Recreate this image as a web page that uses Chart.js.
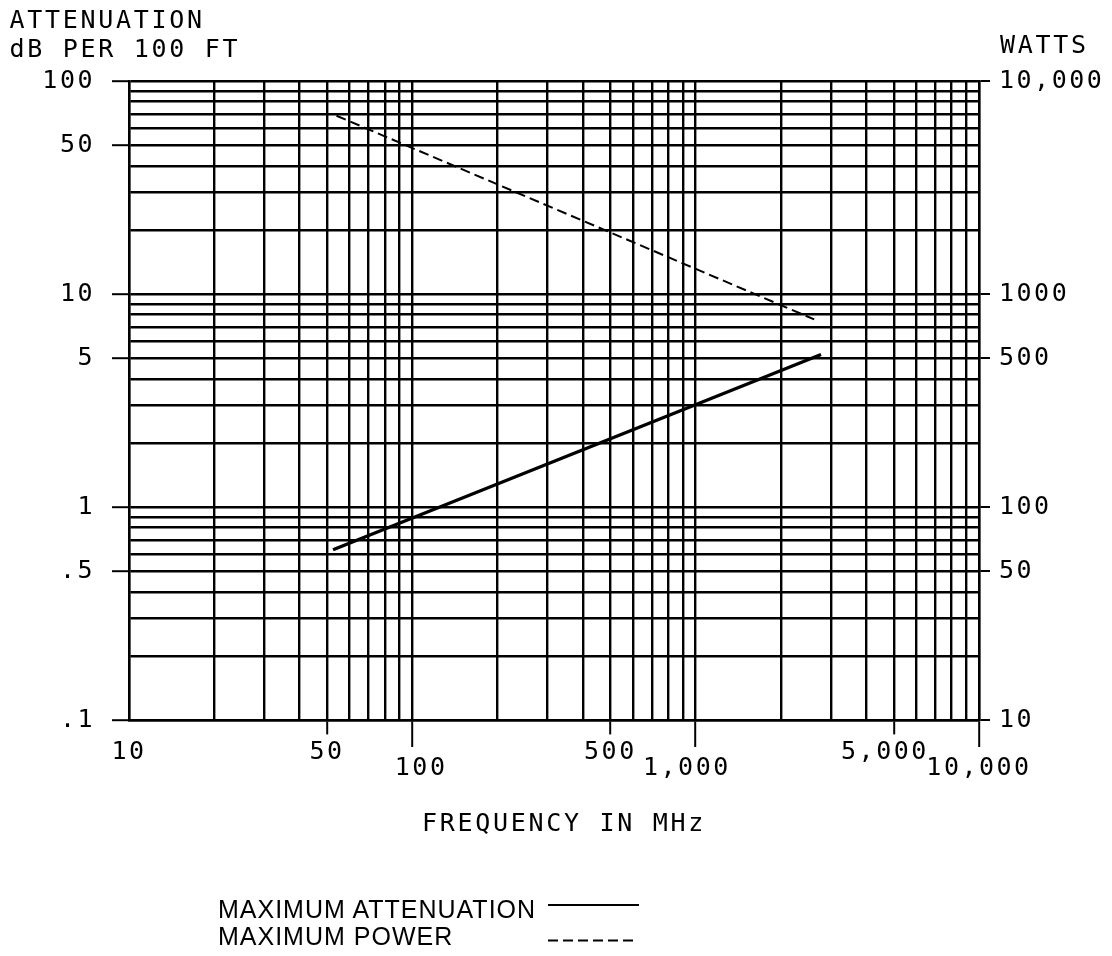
<!DOCTYPE html>
<html>
<head>
<meta charset="utf-8">
<script src="https://cdn.jsdelivr.net/npm/chart.js@4.4.1/dist/chart.umd.min.js"></script>
<style>
  html, body { margin: 0; padding: 0; background: #fff; }
  #wrap { position: relative; width: 1112px; height: 956px; overflow: hidden; background: #fff; }
  #c { position: absolute; left: 0; top: 0; }
  .t { position: absolute; font-family: "DejaVu Sans Mono", monospace; font-size: 25px; line-height: 25px;
       letter-spacing: 2.7px; color: #000; white-space: pre; }
  .lg { position: absolute; font-family: "Liberation Sans", Arial, sans-serif; font-size: 25px; line-height: 25px;
        letter-spacing: 1px; color: #000; white-space: pre; }
  svg { position: absolute; left: 0; top: 0; }
</style>
</head>
<body>
<div id="wrap">
  <canvas id="c" width="1112" height="956"></canvas>
  <div class="t" style="left:9.5px; top:7px;">ATTENUATION</div>
  <div class="t" style="left:9.5px; top:35.5px;">dB PER 100 FT</div>
  <div class="t" style="left:1000px; top:32px;">WATTS</div>
  <div class="t" style="left:422px; top:810px;">FREQUENCY IN MHz</div>
  <div class="lg" style="left:218px; top:896.7px;">MAXIMUM ATTENUATION</div>
  <div class="lg" style="left:218px; top:924.2px;">MAXIMUM POWER</div>
  <svg width="1112" height="956">
    <line x1="548" y1="905" x2="639" y2="905" stroke="#000" stroke-width="1.8"/>
    <line x1="548" y1="940.5" x2="637" y2="940.5" stroke="#000" stroke-width="1.8" stroke-dasharray="10 5"/>
  </svg>
</div>
<script>
// ---- data ----
const attenFreqMHz = [52.5, 2770];     // MAXIMUM ATTENUATION (solid), MHz
const attenDb      = [0.63, 5.2];      // dB per 100 ft
const powerFreqMHz = [54, 2620];       // MAXIMUM POWER (dashed), MHz
const powerWatts   = [6870, 760];      // watts

// ---- axis tick labels ----
const freqLabelValues  = [10, 50, 100, 500, 1000, 5000, 10000];
const freqLabelTexts   = ['10', '50', '100', '500', '1,000', '5,000', '10,000'];
const attenLabelValues = [100, 50, 10, 5, 1, 0.5, 0.1];
const attenLabelTexts  = ['100', '50', '10', '5', '1', '.5', '.1'];
const powerLabelValues = [10000, 1000, 500, 100, 50, 10];
const powerLabelTexts  = ['10,000', '1000', '500', '100', '50', '10'];

// grid: 1..9 per decade
function decadeGrid(e0, e1) {
  const out = [];
  for (let e = e0; e < e1; e++) {
    for (let m = 1; m <= 9; m++) out.push(Number((m * Math.pow(10, e)).toPrecision(3)));
  }
  out.push(Math.pow(10, e1));
  return out;
}
const freqGrid = decadeGrid(1, 4);
const attenGrid = decadeGrid(-1, 2);

function idxOf(values, v) {
  return values.findIndex(t => Math.abs(v / t - 1) < 1e-6);
}
function labelFor(values, texts, v) {
  const i = idxOf(values, v);
  return i < 0 ? '' : texts[i];
}

const BLANK = 'rgba(0,0,0,0)';
const MONO = '"DejaVu Sans Mono", monospace';
const lowerRow = [100, 1000, 10000];
const upperRowTicked = [50, 500, 5000];

const spacingPlugin = {
  id: 'spacing',
  beforeDraw(chart) { chart.ctx.letterSpacing = '2.5px'; },
  afterDraw(chart) { chart.ctx.letterSpacing = '0px'; }
};

new Chart(document.getElementById('c'), {
  type: 'line',
  data: {
    datasets: [
      {
        label: 'MAXIMUM ATTENUATION',
        data: attenFreqMHz.map((f, i) => ({ x: f, y: attenDb[i] })),
        yAxisID: 'y',
        borderColor: '#000',
        borderWidth: 3.4,
        pointRadius: 0,
        tension: 0,
        fill: false
      },
      {
        label: 'MAXIMUM POWER',
        data: powerFreqMHz.map((f, i) => ({ x: f, y: powerWatts[i] })),
        yAxisID: 'y2',
        borderColor: '#000',
        borderWidth: 2,
        borderDash: [10, 5],
        pointRadius: 0,
        tension: 0,
        fill: false
      }
    ]
  },
  plugins: [spacingPlugin],
  options: {
    responsive: false,
    animation: false,
    devicePixelRatio: 1,
    events: [],
    layout: { padding: { top: 81, left: 0, right: 0, bottom: 0 } },
    plugins: { legend: { display: false }, tooltip: { enabled: false }, title: { display: false } },
    scales: {
      x: {
        type: 'logarithmic',
        position: 'bottom',
        min: 10,
        max: 10000,
        afterBuildTicks: s => { s.ticks = freqGrid.map(v => ({ value: v })); },
        afterFit: s => { s.height = 236; },
        grid: {
          color: '#000',
          lineWidth: 2.4,
          drawTicks: true,
          tickLength: 27,
          tickWidth: 2,
          tickColor: c => {
            if (!c.tick) return BLANK;
            const v = c.tick.value;
            return (idxOf(lowerRow, v) >= 0 || idxOf(upperRowTicked, v) >= 0) ? '#000' : BLANK;
          },
          tickBorderDash: c => (c.tick && idxOf(upperRowTicked, c.tick.value) >= 0) ? [13, 60] : []
        },
        border: { display: true, color: '#000', width: 2.4 },
        ticks: {
          autoSkip: false,
          maxRotation: 0,
          minRotation: 0,
          padding: -3,
          color: '#000',
          font: { family: MONO, size: 25, lineHeight: '16px' },
          callback: v => {
            const txt = labelFor(freqLabelValues, freqLabelTexts, v);
            if (!txt) return '';
            if (v === 100) return ['', ' ' + txt];
            if (v === 1000) return ['', txt + ' '];
            if (v === 10000) return ['', txt];
            if (v === 5000) return txt + ' ';
            return txt;
          }
        }
      },
      y: {
        type: 'logarithmic',
        position: 'left',
        min: 0.1,
        max: 100,
        afterBuildTicks: s => { s.ticks = attenGrid.map(v => ({ value: v })); },
        afterFit: s => { s.width = 129; },
        grid: {
          color: '#000',
          lineWidth: 2.4,
          drawTicks: true,
          tickLength: 17,
          tickWidth: 2,
          tickColor: c => (c.tick && idxOf(attenLabelValues, c.tick.value) >= 0) ? '#000' : BLANK
        },
        border: { display: true, color: '#000', width: 2.4 },
        ticks: {
          autoSkip: false,
          padding: 17,
          color: '#000',
          font: { family: MONO, size: 25 },
          callback: v => labelFor(attenLabelValues, attenLabelTexts, v)
        }
      },
      y2: {
        type: 'logarithmic',
        position: 'right',
        min: 10,
        max: 10000,
        afterBuildTicks: s => { s.ticks = powerLabelValues.map(v => ({ value: v })); },
        afterFit: s => { s.width = 133; },
        grid: {
          drawOnChartArea: false,
          color: '#000',
          lineWidth: 2,
          drawTicks: true,
          tickLength: 11,
          tickWidth: 2,
          tickColor: '#000'
        },
        border: { display: true, color: '#000', width: 2.4 },
        ticks: {
          autoSkip: false,
          padding: 9,
          color: '#000',
          font: { family: MONO, size: 25 },
          callback: v => labelFor(powerLabelValues, powerLabelTexts, v)
        }
      }
    }
  }
});
</script>
</body>
</html>
